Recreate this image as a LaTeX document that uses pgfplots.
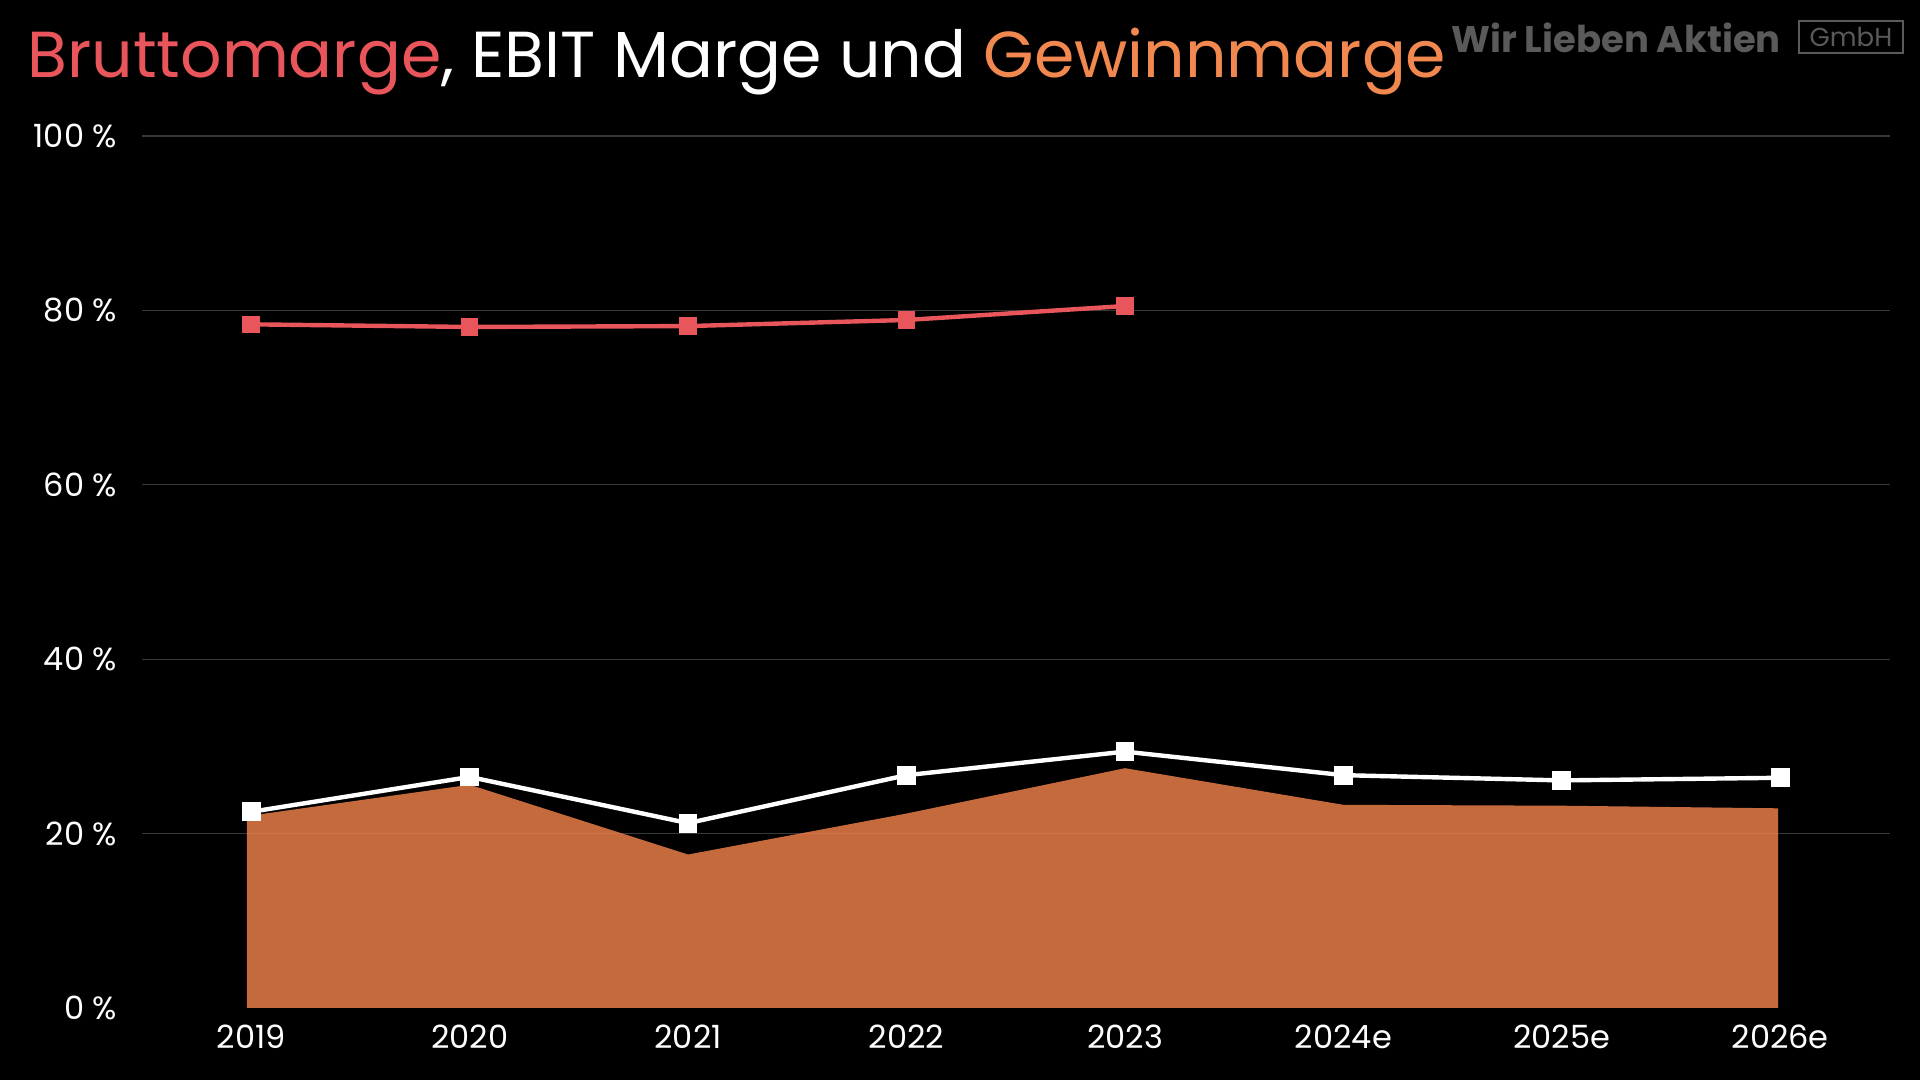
\documentclass[border=0pt]{standalone}
\usepackage{fontspec}
\setmainfont{Poppins}
\usepackage{pgfplots}
\pgfplotsset{compat=1.18}
\definecolor{brutto}{HTML}{E8555A}
\definecolor{gewinn}{HTML}{F6854B}
\definecolor{titleorange}{HTML}{F0884F}
\definecolor{gridc}{HTML}{383838}
\definecolor{wm}{HTML}{5A5A5A}
\begin{document}
\begin{tikzpicture}[x=1pt,y=1pt]
\fill[black] (0,0) rectangle (960,540);
\begin{axis}[at={(71pt,36pt)}, anchor=south west, scale only axis,
  width=873.75pt, height=436pt,
  xmin=-0.5, xmax=7.5, ymin=0, ymax=100,
  xtick={0,1,2,3,4,5,6,7},
  xticklabels={2019,2020,2021,2022,2023,2024e,2025e,2026e},
  ytick={0,20,40,60,80,100},
  yticklabel={\pgfmathprintnumber{\tick} \%},
  /pgf/number format/assume math mode=true,
  ticklabel style={font=\fontsize{16}{18}\selectfont, text=white},
  xticklabel style={yshift=-5pt},
  yticklabel style={xshift=-9pt},
  axis x line*=bottom, axis y line*=left,
  y axis line style={draw=none},
  x axis line style={draw=gridc!150, line width=0.8pt, -},
  major tick length=0pt,
  ymajorgrids, major grid style={draw=gridc, line width=0.6pt},
  clip=false,
]
\addplot[draw=none, fill=gewinn, fill opacity=0.8] coordinates {
 (-0.02,22.0) (1,25.6) (2,17.6) (3,22.3) (4,27.5) (5,23.3) (6,23.2) (6.99,22.9)
} \closedcycle;
\addplot[white, line width=2.2pt, mark=square*, mark size=3.6pt, mark options={solid}] coordinates {
 (0,22.5) (1,26.5) (2,21.2) (3,26.7) (4,29.4) (5,26.7) (6,26.1) (7,26.4)
};
\addplot[brutto, line width=2.2pt, mark=square*, mark size=3.3pt] coordinates {
 (0,78.4) (1,78.1) (2,78.2) (3,78.9) (4,80.5)
};
\end{axis}
\node[anchor=base west, inner sep=0] at (13.5,501) {\fontsize{32.5}{38}\selectfont\color{brutto}Bruttomarge\color{white}, EBIT Marge und \color{titleorange}Gewinnmarge};
\node[anchor=base west, inner sep=0, text=wm] at (725.5,513.5) {\fontsize{18.5}{22}\selectfont\bfseries Wir Lieben Aktien};
\draw[wm, line width=1.2pt] (899.5,513.5) rectangle (951.5,529.5);
\node[text=wm, inner sep=0] at (925.5,521.5) {\fontsize{13}{15}\selectfont GmbH};
\end{tikzpicture}
\end{document}
